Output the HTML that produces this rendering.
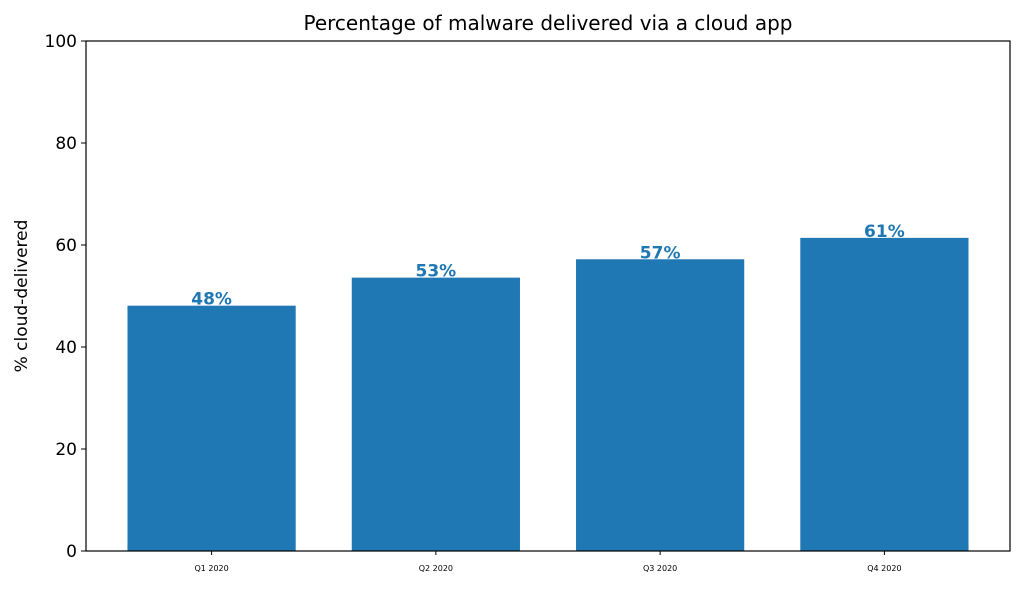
<!DOCTYPE html>
<html><head><meta charset="utf-8"><style>
body{margin:0;background:#fff;font-family:"DejaVu Sans","Liberation Sans",sans-serif;}
</style></head><body>
<svg width="1024" height="587" xmlns="http://www.w3.org/2000/svg">
<text x="548" y="30" text-anchor="middle" font-size="20" fill="#000">Percentage of malware delivered via a cloud app</text>
<text transform="translate(27,296) rotate(-90)" text-anchor="middle" font-size="17" fill="#000">% cloud-delivered</text>
<g id="plot"></g>
<rect x="86" y="41" width="924" height="510" fill="none" stroke="#000" stroke-width="1.2"/>
</svg>
<script>
const categories=["Q1 2020","Q2 2020","Q3 2020","Q4 2020"];
const values=[48.1,53.6,57.2,61.4];
const valueLabels=["48%","53%","57%","61%"];
const yTicks=[0,20,40,60,80,100];
const L=86,R=1010,T=41,B=551;
const ys=v=>B-(v/100)*(B-T);
const xs=i=>L+(i+0.56)/4.12*(R-L);
const bw=0.75/4.12*(R-L);
const g=document.getElementById('plot');
const NS="http://www.w3.org/2000/svg";
function mk(t,a){const e=document.createElementNS(NS,t);for(const k in a)e.setAttribute(k,a[k]);g.appendChild(e);return e;}
yTicks.forEach(v=>{
  const l=mk('line',{x1:L-5,x2:L,y1:ys(v),y2:ys(v),stroke:'#000'});
  
  
  const t=mk('text',{x:L-9,y:ys(v)+6,'text-anchor':'end','font-size':17});
  t.textContent=v;
  
  
});
categories.forEach((c,i)=>{
  const r=mk('rect',{x:xs(i)-bw/2,y:ys(values[i]),width:bw,height:B-ys(values[i]),fill:'#1f77b4'});
  
  
  const tk=mk('line',{x1:xs(i),x2:xs(i),y1:B,y2:B+4,stroke:'#000'});
  
  
  const t=mk('text',{x:xs(i),y:B+20,'text-anchor':'middle','font-size':8});
  t.textContent=c;
  
  
  const v=mk('text',{x:xs(i),y:ys(values[i])-1,'text-anchor':'middle','font-size':17,'font-weight':'bold',fill:'#1f77b4'});
  v.textContent=valueLabels[i];
  
  
});
</script>
</body></html>
